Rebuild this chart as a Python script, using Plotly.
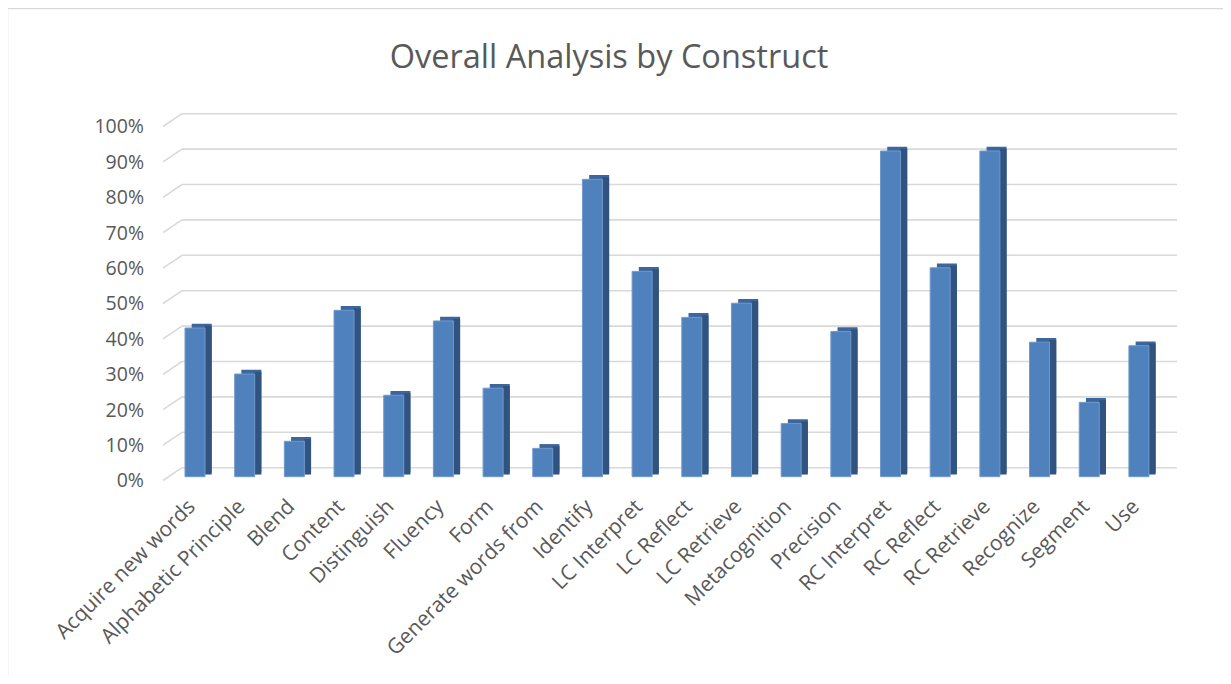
import plotly.graph_objects as go

# ---------------- data ----------------
categories = ["Acquire new words", "Alphabetic Principle", "Blend", "Content", "Distinguish",
              "Fluency", "Form", "Generate words from", "Identify", "LC Interpret",
              "LC Reflect", "LC Retrieve", "Metacognition", "Precision", "RC Interpret",
              "RC Reflect", "RC Retrieve", "Recognize", "Segment", "Use"]
values = [0.42, 0.29, 0.10, 0.47, 0.23, 0.44, 0.25, 0.08, 0.84, 0.58,
          0.45, 0.49, 0.15, 0.41, 0.92, 0.59, 0.92, 0.38, 0.21, 0.37]
y_ticks = [i / 10 for i in range(11)]
title_text = "Overall Analysis by Construct"

# ---------------- layout constants (screen pixels) ----------------
SCREEN_W, SCREEN_H = 1231, 684
OFF = 8                  # page body margin
W, H = SCREEN_W - 2 * OFF, SCREEN_H - 2 * OFF
PLOT_L, PLOT_R, PLOT_T, PLOT_B = 163 - OFF, 1177 - OFF, 100 - OFF, 490 - OFF
PX_UNIT = 354.0          # pixels for 100%
FRONT0 = 476.7 - OFF     # bar front-face floor
LABEL0 = 480.5 - OFF     # tick label centre for 0%
GRID0 = 467.7 - OFF      # back-wall grid 0%
PITCH = 49.68            # px per category
FIRST_C = 195.0 - OFF    # first bar centre
BACK_L = 182.0 - OFF     # back wall left edge
FRONT_W = 20.0           # bar front width px
DEPTH_X, DEPTH_Y = 6.7, 4.3

plot_w = PLOT_R - PLOT_L
plot_h = PLOT_B - PLOT_T
xa = -(FIRST_C - PLOT_L) / PITCH
xb = xa + plot_w / PITCH
bw = FRONT_W / PITCH
dxu = DEPTH_X / PITCH
dyu = DEPTH_Y / PX_UNIT

FRONT_COL = "#4F81BD"
TOP_COL = "#3C669C"
SIDE_COL = "#30537F"
TXT = "#595959"
GRID_COL = "#D9D9D9"
FONT = "Open Sans"

fig = go.Figure()
# top face layer (offset back and up)
fig.add_trace(go.Bar(x=categories, y=values, base=dyu, offset=-bw / 2 + dxu, width=bw,
                     marker=dict(color=TOP_COL, line=dict(width=0)), hoverinfo="skip",
                     showlegend=False))
# side face layer
fig.add_trace(go.Bar(x=categories, y=values, base=dyu / 2, offset=bw / 2, width=dxu,
                     marker=dict(color=SIDE_COL, line=dict(width=0)), hoverinfo="skip",
                     showlegend=False))
# front face
fig.add_trace(go.Bar(x=categories, y=values, offset=-bw / 2, width=bw,
                     marker=dict(color=FRONT_COL, line=dict(width=1, color="#7099CC")),
                     showlegend=False))

shapes = []
gx0 = (BACK_L - PLOT_L) / plot_w
for v in y_ticks:
    shapes.append(dict(type="line", xref="paper", yref="y", ysizemode="pixel", yanchor=v,
                       x0=gx0, x1=1, y0=FRONT0 - GRID0, y1=FRONT0 - GRID0,
                       line=dict(color=GRID_COL, width=1.6), layer="below"))
    shapes.append(dict(type="line", xref="paper", yref="y", ysizemode="pixel", yanchor=v,
                       x0=0, x1=gx0, y0=FRONT0 - LABEL0, y1=FRONT0 - GRID0,
                       line=dict(color=GRID_COL, width=1.6), layer="below"))

# chart border
def px_x(p):
    return (p - OFF - PLOT_L) / plot_w
def px_y(p):
    return (PLOT_B - (p - OFF)) / plot_h
shapes.append(dict(type="rect", xref="paper", yref="paper",
                   x0=px_x(7.5), x1=px_x(SCREEN_W + 40), y0=px_y(SCREEN_H + 40), y1=px_y(8.5),
                   line=dict(color=GRID_COL, width=1.5), fillcolor="rgba(0,0,0,0)", layer="below"))

fig.update_layout(
    width=W, height=H,
    margin=dict(l=PLOT_L, r=W - PLOT_R, t=PLOT_T, b=H - PLOT_B, pad=0),
    paper_bgcolor="white", plot_bgcolor="white",
    barmode="overlay",
    title=dict(text=title_text, x=(609 - OFF) / W, xanchor="center", xref="container",
               y=1 - (57 - OFF) / H, yanchor="middle", yref="container",
               font=dict(family=FONT, size=32.5, color=TXT)),
    font=dict(family=FONT, color=TXT),
    xaxis=dict(type="category", range=[xa, xb], tickangle=-45, showgrid=False,
               showline=False, zeroline=False, ticks="", ticklabelstandoff=-1,
               ticklabelshift=-6,
               tickfont=dict(family=FONT, size=21, color=TXT)),
    yaxis=dict(range=[-(PLOT_B - FRONT0) / PX_UNIT, (FRONT0 - PLOT_T) / PX_UNIT],
               showgrid=False, zeroline=False, showline=False, showticklabels=False),
    yaxis2=dict(range=[-(PLOT_B - LABEL0) / PX_UNIT, (LABEL0 - PLOT_T) / PX_UNIT],
                overlaying="y", side="left", anchor="x", tickvals=y_ticks,
                tickformat=".0%", showgrid=False, zeroline=False, showline=False,
                ticks="", ticklabelstandoff=18,
                tickfont=dict(family=FONT, size=19.5, color=TXT)),
    shapes=shapes,
)
# keep label axis alive with an invisible trace
fig.add_trace(go.Scatter(x=[categories[0]], y=[0], yaxis="y2", mode="markers",
                         marker=dict(opacity=0), hoverinfo="skip", showlegend=False))

fig.write_html("out.html")
